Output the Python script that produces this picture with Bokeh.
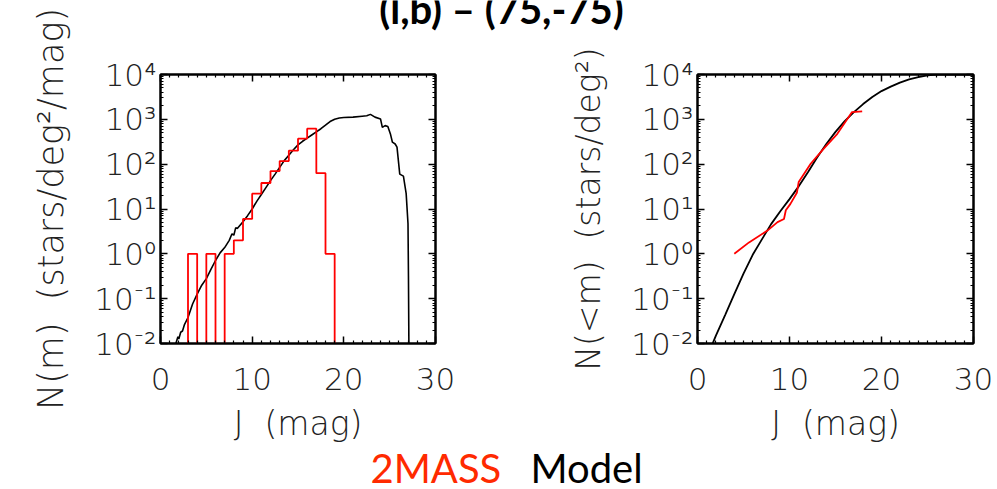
from bokeh.plotting import figure
from bokeh.layouts import column, row
from bokeh.models import FixedTicker, CustomJSTickFormatter, LinearAxis, LogAxis, Range1d
from bokeh.core.properties import value
from bokeh.embed import file_html
from bokeh.resources import INLINE

# ---------------- data ----------------
TITLE = "(l,b) \u2013 (75,-75)"
X_LABEL = "J \u00a0(mag)"
Y_LABEL_LEFT = "N(m) \u00a0(stars/deg\u00b2/mag)"
Y_LABEL_RIGHT = "N(<m) \u00a0(stars/deg\u00b2)"
SERIES_NAMES = ["2MASS", "Model"]

X_RANGE = [0, 30]
Y_RANGE = [1e-2, 1e4]
X_MAJOR_TICKS = [0, 10, 20, 30]
X_MINOR_TICKS = [m for m in range(0, 31) if m % 10 != 0]
Y_MAJOR_TICKS = [1e-2, 1e-1, 1e0, 1e1, 1e2, 1e3, 1e4]
Y_MINOR_TICKS = [k * 10.0 ** e for e in range(-2, 4) for k in range(2, 10)]

# 2MASS differential counts, 1-mag bins (left edges)
mass_bin_left = [3, 4, 5, 6, 7, 8, 9, 10, 11, 12, 13, 14, 15, 16, 17, 18]
mass_counts = [1, 0, 1, 0, 1, 2, 6, 22, 38, 70, 117, 200, 370, 620, 63, 1]

# Model differential counts
model_diff_mag = [1.6, 1.9, 2.0, 2.2, 2.4, 2.6, 3.0, 3.5, 4.0, 4.5, 5.0, 5.5, 6.0, 6.5,
                  7.0, 7.5, 7.8, 8.0, 8.2, 8.4, 9.0, 9.5, 10.0, 10.5, 11.0, 11.5, 12.0,
                  12.5, 13.0, 13.5, 14.0, 14.5, 15.0, 15.5, 16.0, 16.5, 17.0, 17.5, 18.0,
                  18.5, 19.0, 19.5, 20.0, 21.0, 22.0, 22.5, 22.9, 23.4, 24.0, 24.2, 24.5,
                  24.8, 25.1, 25.3, 25.6, 25.8, 26.1, 26.5, 26.8, 27.0, 27.05, 27.1]
model_diff_n = [0.0089, 0.0141, 0.0126, 0.0178, 0.019, 0.026, 0.038, 0.076, 0.126, 0.20,
                0.28, 0.45, 0.71, 1.05, 1.38, 2.0, 2.8, 2.6, 3.8, 3.7, 5.2, 7.1, 10.0,
                14.8, 21.0, 30.0, 43.0, 60.0, 85.0, 120.0, 158.0, 209.0, 269.0, 324.0,
                380.0, 447.0, 525.0, 617.0, 741.0, 891.0, 1000.0, 1070.0, 1100.0, 1120.0,
                1175.0, 1200.0, 1290.0, 1120.0, 1020.0, 661.0, 724.0, 692.0, 457.0, 309.0,
                282.0, 240.0, 60.0, 54.0, 22.0, 4.7, 0.32, 0.008]

# 2MASS cumulative counts
mass_cum_mag = [4.0, 5.6, 7.6, 8.7, 9.4, 9.6, 10.1, 10.8, 11.0, 12.3, 13.7, 15.2, 16.8, 17.9]
mass_cum_n = [1.0, 1.8, 3.3, 5.1, 6.0, 9.4, 13.0, 23.0, 40.0, 102.0, 220.0, 475.0, 1450.0, 1510.0]

# Model cumulative counts
model_cum_mag = [1.6, 2, 3, 4, 5, 6, 7, 8, 9, 10, 11, 12, 13, 14, 15, 16, 17, 18, 19, 20,
                 21, 22, 23, 24, 25, 26, 27, 28, 29, 30]
model_cum_n = [0.0095, 0.015, 0.043, 0.126, 0.36, 0.95, 2.1, 4.6, 8.9, 16.6, 32.0, 66.0,
               141.0, 282.0, 525.0, 912.0, 1450.0, 2190.0, 3160.0, 4270.0, 5370.0, 6610.0,
               7760.0, 8710.0, 9550.0, 9890.0, 9950.0, 9960.0, 9960.0, 9960.0]

# ---------------- styling ----------------
W, H = 997, 489
RED = "#ff0000"
TEXT_RED = "#ff2a00"
AX_FONT = "'DejaVu Sans ExtraLight', 'DejaVu Sans Light', 'Lato Light', sans-serif"
TICK_SIZE = "31px"

sup_formatter_code = """
const sup = {"-": "\u207b", "0": "\u2070", "1": "\u00b9", "2": "\u00b2", "3": "\u00b3",
             "4": "\u2074", "5": "\u2075", "6": "\u2076", "7": "\u2077", "8": "\u2078", "9": "\u2079"};
const e = Math.round(Math.log10(tick));
return "10" + String(e).split("").map(c => sup[c]).join("");
"""


def style_axis(ax, labels=True, label_size="33px"):
    ax.axis_line_color = "black"
    ax.axis_line_width = 2
    ax.major_tick_in = 7
    ax.major_tick_out = 0
    ax.minor_tick_in = 3
    ax.minor_tick_out = 0
    ax.major_tick_line_width = 1.5
    ax.minor_tick_line_width = 1.2
    ax.major_tick_line_color = "black"
    ax.minor_tick_line_color = "black"
    ax.major_label_text_font = AX_FONT
    ax.major_label_text_color = "#222222"
    ax.major_label_text_font_size = TICK_SIZE
    ax.axis_label_text_font = AX_FONT
    ax.axis_label_text_font_style = "normal"
    ax.axis_label_text_color = "#222222"
    ax.axis_label_text_font_size = label_size
    if not labels:
        ax.formatter = CustomJSTickFormatter(code="return '';")
        ax.major_label_standoff = 0


def make_panel(width, left, right, ylabel, ylabel_size):
    p = figure(width=width, height=H, x_range=Range1d(*X_RANGE), y_range=Range1d(*Y_RANGE),
               y_axis_type="log", toolbar_location=None, output_backend="svg",
               min_border_left=left, min_border_right=right, min_border_top=74,
               min_border_bottom=H - 74 - 269)
    p.grid.visible = False
    p.outline_line_color = "black"
    p.outline_line_width = 2
    p.background_fill_color = "white"
    p.border_fill_alpha = 0
    xt = FixedTicker(ticks=X_MAJOR_TICKS, minor_ticks=X_MINOR_TICKS)
    yt = FixedTicker(ticks=Y_MAJOR_TICKS, minor_ticks=Y_MINOR_TICKS)

    xa = p.xaxis[0]
    xa.ticker = xt
    xa.axis_label = X_LABEL
    style_axis(xa)
    xa.major_label_standoff = 24
    xa.axis_label_standoff = 11

    ya = p.yaxis[0]
    ya.ticker = yt
    ya.formatter = CustomJSTickFormatter(code=sup_formatter_code)
    ya.axis_label = ylabel
    style_axis(ya, label_size=ylabel_size)
    ya.major_label_standoff = 4
    ya.axis_label_standoff = 20

    top = LinearAxis(ticker=xt)
    style_axis(top, labels=False)
    p.add_layout(top, "above")
    rt = LogAxis(ticker=yt)
    style_axis(rt, labels=False)
    p.add_layout(rt, "right")
    return p


# ---------------- left panel ----------------
p1 = make_panel(497, 160, 62, Y_LABEL_LEFT, "35px")
floor = Y_RANGE[0] * 0.01
hx = [mass_bin_left[0]]
hy = [floor]
for lft, n in zip(mass_bin_left, mass_counts):
    v = n if n > 0 else floor
    hx += [lft, lft + 1]
    hy += [v, v]
hx.append(mass_bin_left[-1] + 1)
hy.append(floor)
p1.line(model_diff_mag, model_diff_n, line_color="black", line_width=1.6)
p1.line(hx, hy, line_color=RED, line_width=1.8)

# ---------------- right panel ----------------
p2 = make_panel(W - 497, 200, 24, Y_LABEL_RIGHT, "33px")
p2.line(model_cum_mag, model_cum_n, line_color="black", line_width=1.8)
p2.line(mass_cum_mag, mass_cum_n, line_color=RED, line_width=1.8)

# ---------------- background sheet: title and series names ----------------
bg = figure(width=W, height=H, x_range=Range1d(0, W), y_range=Range1d(0, H),
            toolbar_location=None, output_backend="svg", x_axis_location=None,
            y_axis_location=None, min_border=0)
bg.grid.visible = False
bg.outline_line_color = None
bg.text(x=[501], y=[H - 8], text=[TITLE], text_font=value("Lato"), text_font_style="bold",
        text_font_size="40px", text_align="center", text_baseline="alphabetic",
        text_color="black")
bg.text(x=[370], y=[22], text=[SERIES_NAMES[0]], text_font=value("Lato"),
        text_font_size="40px", text_align="left", text_baseline="alphabetic",
        text_color=TEXT_RED)
bg.text(x=[530], y=[22], text=[SERIES_NAMES[1]], text_font=value("Lato"),
        text_font_size="40px", text_align="left", text_baseline="alphabetic",
        text_color="black")

panels = row(p1, p2, spacing=0, margin=(-H, 0, 0, 0))
layout = column(bg, panels, spacing=0)
open("out.html", "w").write(file_html(layout, INLINE))
